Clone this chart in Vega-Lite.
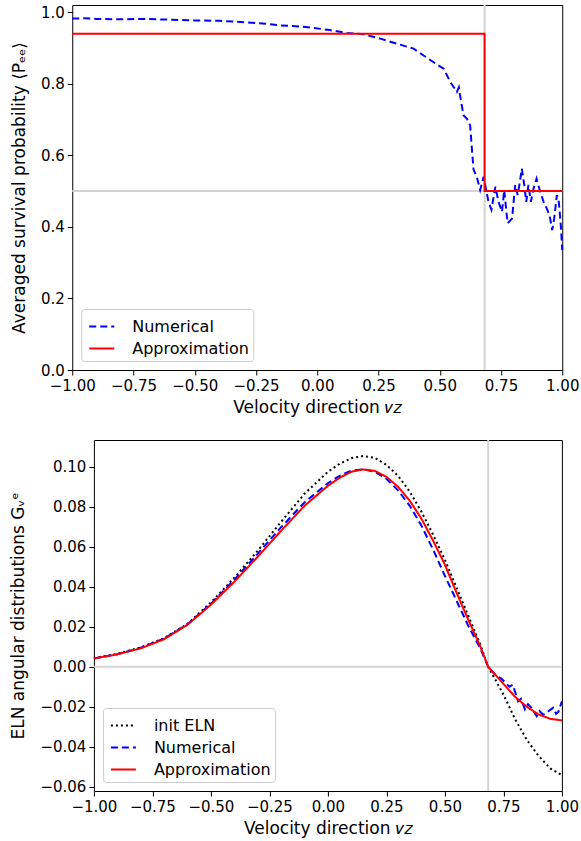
{
  "$schema": "https://vega.github.io/schema/vega-lite/v6.json",
  "padding": {"left": 9, "top": 3, "right": 0, "bottom": 5},
  "background": "white",
  "config": {
    "font": "DejaVu Sans",
    "view": {"stroke": "black", "strokeWidth": 1},
    "axis": {
      "domain": false,
      "grid": false,
      "ticks": true,
      "tickColor": "black",
      "tickSize": 5,
      "tickWidth": 1,
      "labelFont": "DejaVu Sans",
      "labelFontSize": 15,
      "labelColor": "black",
      "labelPadding": 3,
      "titleFont": "DejaVu Sans",
      "titleFontSize": 17,
      "titleFontWeight": "normal",
      "titleColor": "black",
      "labelOverlap": false,
      "labelFlush": false
    },
    "legend": {
      "orient": "bottom-left",
      "offset": 9,
      "title": null,
      "fillColor": "rgba(255,255,255,0.8)",
      "strokeColor": "#cccccc",
      "cornerRadius": 3,
      "padding": 4,
      "labelFont": "DejaVu Sans",
      "labelFontSize": 16,
      "labelColor": "black",
      "symbolType": "stroke",
      "symbolSize": 625,
      "symbolStrokeWidth": 2,
      "symbolOffset": 3,
      "rowPadding": -7,
      "labelOffset": 17
    }
  },
  "resolve": {"scale": {"color": "independent", "strokeDash": "independent", "x": "independent", "y": "independent"}},
  "center": true,
  "spacing": 22,
  "vconcat": [
    {
      "width": 490,
      "height": 365,
      "resolve": {"axis": {"y": "independent"}},
      "layer": [
        {
          "data": {"values": [{"v": 0.683}]},
          "mark": {"type": "rule", "color": "#d3d3d3", "strokeWidth": 2},
          "encoding": {"x": {"field": "v", "type": "quantitative", "scale": {"domain": [-1, 1], "nice": false}}}
        },
        {
          "data": {"values": [{"v": 0.5}]},
          "mark": {"type": "rule", "color": "#d3d3d3", "strokeWidth": 2},
          "encoding": {"y": {"field": "v", "type": "quantitative", "scale": {"domain": [0, 1.02], "nice": false},
                             "axis": {"orient": "right", "title": " ", "labels": false, "ticks": false, "domain": false, "grid": false, "titlePadding": 20, "titleFontSize": 17, "titleOpacity": 0}}}
        },
        {
          "data": {"values": [
            {"s": "Numerical", "i": 0, "x": -1.0, "y": 0.982},
            {"s": "Numerical", "i": 1, "x": -0.95, "y": 0.983},
            {"s": "Numerical", "i": 2, "x": -0.9, "y": 0.981},
            {"s": "Numerical", "i": 3, "x": -0.8, "y": 0.98},
            {"s": "Numerical", "i": 4, "x": -0.7, "y": 0.981},
            {"s": "Numerical", "i": 5, "x": -0.6, "y": 0.979},
            {"s": "Numerical", "i": 6, "x": -0.5, "y": 0.977},
            {"s": "Numerical", "i": 7, "x": -0.4, "y": 0.976},
            {"s": "Numerical", "i": 8, "x": -0.3, "y": 0.972},
            {"s": "Numerical", "i": 9, "x": -0.2, "y": 0.967},
            {"s": "Numerical", "i": 10, "x": -0.15, "y": 0.963},
            {"s": "Numerical", "i": 11, "x": -0.07, "y": 0.96},
            {"s": "Numerical", "i": 12, "x": -0.015, "y": 0.956},
            {"s": "Numerical", "i": 13, "x": 0.05, "y": 0.95},
            {"s": "Numerical", "i": 14, "x": 0.121, "y": 0.942},
            {"s": "Numerical", "i": 15, "x": 0.19, "y": 0.938},
            {"s": "Numerical", "i": 16, "x": 0.257, "y": 0.926},
            {"s": "Numerical", "i": 17, "x": 0.325, "y": 0.912},
            {"s": "Numerical", "i": 18, "x": 0.393, "y": 0.898},
            {"s": "Numerical", "i": 19, "x": 0.434, "y": 0.879},
            {"s": "Numerical", "i": 20, "x": 0.475, "y": 0.86},
            {"s": "Numerical", "i": 21, "x": 0.516, "y": 0.842},
            {"s": "Numerical", "i": 22, "x": 0.543, "y": 0.805},
            {"s": "Numerical", "i": 23, "x": 0.57, "y": 0.777},
            {"s": "Numerical", "i": 24, "x": 0.578, "y": 0.79},
            {"s": "Numerical", "i": 25, "x": 0.586, "y": 0.755},
            {"s": "Numerical", "i": 26, "x": 0.597, "y": 0.712},
            {"s": "Numerical", "i": 27, "x": 0.611, "y": 0.702},
            {"s": "Numerical", "i": 28, "x": 0.624, "y": 0.684},
            {"s": "Numerical", "i": 29, "x": 0.631, "y": 0.62},
            {"s": "Numerical", "i": 30, "x": 0.638, "y": 0.56},
            {"s": "Numerical", "i": 31, "x": 0.651, "y": 0.54},
            {"s": "Numerical", "i": 32, "x": 0.665, "y": 0.503},
            {"s": "Numerical", "i": 33, "x": 0.679, "y": 0.54},
            {"s": "Numerical", "i": 34, "x": 0.699, "y": 0.47},
            {"s": "Numerical", "i": 35, "x": 0.711, "y": 0.448},
            {"s": "Numerical", "i": 36, "x": 0.727, "y": 0.512},
            {"s": "Numerical", "i": 37, "x": 0.74, "y": 0.47},
            {"s": "Numerical", "i": 38, "x": 0.754, "y": 0.442},
            {"s": "Numerical", "i": 39, "x": 0.763, "y": 0.503},
            {"s": "Numerical", "i": 40, "x": 0.777, "y": 0.41},
            {"s": "Numerical", "i": 41, "x": 0.795, "y": 0.423},
            {"s": "Numerical", "i": 42, "x": 0.808, "y": 0.517},
            {"s": "Numerical", "i": 43, "x": 0.818, "y": 0.489},
            {"s": "Numerical", "i": 44, "x": 0.826, "y": 0.521},
            {"s": "Numerical", "i": 45, "x": 0.835, "y": 0.563},
            {"s": "Numerical", "i": 46, "x": 0.845, "y": 0.517},
            {"s": "Numerical", "i": 47, "x": 0.853, "y": 0.47},
            {"s": "Numerical", "i": 48, "x": 0.862, "y": 0.517},
            {"s": "Numerical", "i": 49, "x": 0.872, "y": 0.47},
            {"s": "Numerical", "i": 50, "x": 0.883, "y": 0.507},
            {"s": "Numerical", "i": 51, "x": 0.895, "y": 0.535},
            {"s": "Numerical", "i": 52, "x": 0.91, "y": 0.498},
            {"s": "Numerical", "i": 53, "x": 0.924, "y": 0.47},
            {"s": "Numerical", "i": 54, "x": 0.937, "y": 0.451},
            {"s": "Numerical", "i": 55, "x": 0.948, "y": 0.433},
            {"s": "Numerical", "i": 56, "x": 0.959, "y": 0.391},
            {"s": "Numerical", "i": 57, "x": 0.967, "y": 0.423},
            {"s": "Numerical", "i": 58, "x": 0.978, "y": 0.489},
            {"s": "Numerical", "i": 59, "x": 0.986, "y": 0.47},
            {"s": "Numerical", "i": 60, "x": 0.994, "y": 0.405},
            {"s": "Numerical", "i": 61, "x": 1.0, "y": 0.335},
            {"s": "Approximation", "i": 0, "x": -1.0, "y": 0.94},
            {"s": "Approximation", "i": 1, "x": 0.683, "y": 0.94},
            {"s": "Approximation", "i": 2, "x": 0.683, "y": 0.5},
            {"s": "Approximation", "i": 3, "x": 1.0, "y": 0.5}
          ]},
          "mark": {"type": "line", "strokeWidth": 2},
          "encoding": {
            "x": {"field": "x", "type": "quantitative", "scale": {"domain": [-1, 1], "nice": false},
                  "axis": {"values": [-1, -0.75, -0.5, -0.25, 0, 0.25, 0.5, 0.75, 1], "format": ".2f", "title": "Velocity direction  𝑣𝑧", "titlePadding": 6}},
            "y": {"field": "y", "type": "quantitative", "scale": {"domain": [0, 1.02], "nice": false},
                  "axis": {"values": [0, 0.2, 0.4, 0.6, 0.8, 1.0], "format": ".1f", "title": "Averaged survival probability ⟨Pₑₑ⟩", "titlePadding": 12}},
            "color": {"field": "s", "type": "nominal", "scale": {"domain": ["Numerical", "Approximation"], "range": ["#0000ff", "#ff0000"]}},
            "strokeDash": {"field": "s", "type": "nominal", "scale": {"domain": ["Numerical", "Approximation"], "range": [[7, 4], [1, 0]]}},
            "order": {"field": "i", "type": "quantitative"}
          }
        }
      ]
    },
    {
      "width": 468,
      "height": 351,
      "layer": [
        {
          "data": {"values": [{"v": 0.685}]},
          "mark": {"type": "rule", "color": "#d3d3d3", "strokeWidth": 2},
          "encoding": {"x": {"field": "v", "type": "quantitative", "scale": {"domain": [-1, 1], "nice": false}}}
        },
        {
          "data": {"values": [{"v": 0}]},
          "mark": {"type": "rule", "color": "#d3d3d3", "strokeWidth": 2},
          "encoding": {"y": {"field": "v", "type": "quantitative", "scale": {"domain": [-0.0621, 0.1134], "nice": false}}}
        },
        {
          "data": {"values": [
            {"t": "init ELN", "x": -1.0, "y": 0.0043},
            {"t": "init ELN", "x": -0.9, "y": 0.0065},
            {"t": "init ELN", "x": -0.8, "y": 0.0097},
            {"t": "init ELN", "x": -0.7, "y": 0.0143},
            {"t": "init ELN", "x": -0.6, "y": 0.0215},
            {"t": "init ELN", "x": -0.5, "y": 0.0322},
            {"t": "init ELN", "x": -0.4, "y": 0.0445},
            {"t": "init ELN", "x": -0.3, "y": 0.058},
            {"t": "init ELN", "x": -0.2, "y": 0.0725},
            {"t": "init ELN", "x": -0.1, "y": 0.0865},
            {"t": "init ELN", "x": 0.0, "y": 0.0975},
            {"t": "init ELN", "x": 0.05, "y": 0.1015},
            {"t": "init ELN", "x": 0.1, "y": 0.1043},
            {"t": "init ELN", "x": 0.15, "y": 0.1054},
            {"t": "init ELN", "x": 0.2, "y": 0.1045},
            {"t": "init ELN", "x": 0.25, "y": 0.101},
            {"t": "init ELN", "x": 0.3, "y": 0.0955},
            {"t": "init ELN", "x": 0.35, "y": 0.0875},
            {"t": "init ELN", "x": 0.4, "y": 0.0775},
            {"t": "init ELN", "x": 0.45, "y": 0.066},
            {"t": "init ELN", "x": 0.5, "y": 0.0535},
            {"t": "init ELN", "x": 0.55, "y": 0.0395},
            {"t": "init ELN", "x": 0.6, "y": 0.0255},
            {"t": "init ELN", "x": 0.65, "y": 0.0115},
            {"t": "init ELN", "x": 0.685, "y": 0.0},
            {"t": "init ELN", "x": 0.7, "y": -0.0032},
            {"t": "init ELN", "x": 0.75, "y": -0.0138},
            {"t": "init ELN", "x": 0.8, "y": -0.0262},
            {"t": "init ELN", "x": 0.85, "y": -0.0365},
            {"t": "init ELN", "x": 0.9, "y": -0.0445},
            {"t": "init ELN", "x": 0.95, "y": -0.0508},
            {"t": "init ELN", "x": 1.0, "y": -0.0542},
            {"t": "Numerical", "x": -1.0, "y": 0.0042},
            {"t": "Numerical", "x": -0.9, "y": 0.0063},
            {"t": "Numerical", "x": -0.8, "y": 0.0095},
            {"t": "Numerical", "x": -0.7, "y": 0.0141},
            {"t": "Numerical", "x": -0.6, "y": 0.0213},
            {"t": "Numerical", "x": -0.5, "y": 0.0315},
            {"t": "Numerical", "x": -0.4, "y": 0.0435},
            {"t": "Numerical", "x": -0.3, "y": 0.0565},
            {"t": "Numerical", "x": -0.2, "y": 0.0698},
            {"t": "Numerical", "x": -0.1, "y": 0.0822},
            {"t": "Numerical", "x": 0.0, "y": 0.0918},
            {"t": "Numerical", "x": 0.05, "y": 0.0955},
            {"t": "Numerical", "x": 0.1, "y": 0.098},
            {"t": "Numerical", "x": 0.15, "y": 0.0988},
            {"t": "Numerical", "x": 0.2, "y": 0.0975},
            {"t": "Numerical", "x": 0.25, "y": 0.094},
            {"t": "Numerical", "x": 0.3, "y": 0.0882},
            {"t": "Numerical", "x": 0.35, "y": 0.0805},
            {"t": "Numerical", "x": 0.4, "y": 0.0705},
            {"t": "Numerical", "x": 0.45, "y": 0.0585},
            {"t": "Numerical", "x": 0.5, "y": 0.0455},
            {"t": "Numerical", "x": 0.55, "y": 0.033},
            {"t": "Numerical", "x": 0.6, "y": 0.0205},
            {"t": "Numerical", "x": 0.65, "y": 0.0095},
            {"t": "Numerical", "x": 0.685, "y": 0.0},
            {"t": "Numerical", "x": 0.7, "y": -0.002},
            {"t": "Numerical", "x": 0.72, "y": -0.0045},
            {"t": "Numerical", "x": 0.74, "y": -0.0058},
            {"t": "Numerical", "x": 0.76, "y": -0.008},
            {"t": "Numerical", "x": 0.775, "y": -0.01},
            {"t": "Numerical", "x": 0.79, "y": -0.009},
            {"t": "Numerical", "x": 0.8, "y": -0.0125},
            {"t": "Numerical", "x": 0.813, "y": -0.0172},
            {"t": "Numerical", "x": 0.825, "y": -0.016},
            {"t": "Numerical", "x": 0.842, "y": -0.0213},
            {"t": "Numerical", "x": 0.855, "y": -0.0187},
            {"t": "Numerical", "x": 0.87, "y": -0.0205},
            {"t": "Numerical", "x": 0.892, "y": -0.0247},
            {"t": "Numerical", "x": 0.905, "y": -0.0222},
            {"t": "Numerical", "x": 0.92, "y": -0.024},
            {"t": "Numerical", "x": 0.935, "y": -0.023},
            {"t": "Numerical", "x": 0.95, "y": -0.0215},
            {"t": "Numerical", "x": 0.963, "y": -0.0205},
            {"t": "Numerical", "x": 0.975, "y": -0.0235},
            {"t": "Numerical", "x": 0.985, "y": -0.0225},
            {"t": "Numerical", "x": 0.992, "y": -0.02},
            {"t": "Numerical", "x": 1.0, "y": -0.0172},
            {"t": "Approximation", "x": -1.0, "y": 0.0042},
            {"t": "Approximation", "x": -0.9, "y": 0.0062},
            {"t": "Approximation", "x": -0.8, "y": 0.0092},
            {"t": "Approximation", "x": -0.7, "y": 0.0138},
            {"t": "Approximation", "x": -0.6, "y": 0.021},
            {"t": "Approximation", "x": -0.5, "y": 0.031},
            {"t": "Approximation", "x": -0.4, "y": 0.0425},
            {"t": "Approximation", "x": -0.3, "y": 0.055},
            {"t": "Approximation", "x": -0.2, "y": 0.068},
            {"t": "Approximation", "x": -0.1, "y": 0.0805},
            {"t": "Approximation", "x": 0.0, "y": 0.0905},
            {"t": "Approximation", "x": 0.05, "y": 0.0945},
            {"t": "Approximation", "x": 0.1, "y": 0.0975},
            {"t": "Approximation", "x": 0.15, "y": 0.0987},
            {"t": "Approximation", "x": 0.2, "y": 0.098},
            {"t": "Approximation", "x": 0.25, "y": 0.095},
            {"t": "Approximation", "x": 0.3, "y": 0.09},
            {"t": "Approximation", "x": 0.35, "y": 0.083},
            {"t": "Approximation", "x": 0.4, "y": 0.074},
            {"t": "Approximation", "x": 0.45, "y": 0.063},
            {"t": "Approximation", "x": 0.5, "y": 0.051},
            {"t": "Approximation", "x": 0.55, "y": 0.037},
            {"t": "Approximation", "x": 0.6, "y": 0.0235},
            {"t": "Approximation", "x": 0.65, "y": 0.0105},
            {"t": "Approximation", "x": 0.685, "y": 0.0},
            {"t": "Approximation", "x": 0.75, "y": -0.0085},
            {"t": "Approximation", "x": 0.8, "y": -0.015},
            {"t": "Approximation", "x": 0.85, "y": -0.02},
            {"t": "Approximation", "x": 0.9, "y": -0.0238},
            {"t": "Approximation", "x": 0.95, "y": -0.026},
            {"t": "Approximation", "x": 1.0, "y": -0.0268}
          ]},
          "mark": {"type": "line", "strokeWidth": 2},
          "encoding": {
            "x": {"field": "x", "type": "quantitative", "scale": {"domain": [-1, 1], "nice": false},
                  "axis": {"values": [-1, -0.75, -0.5, -0.25, 0, 0.25, 0.5, 0.75, 1], "format": ".2f", "title": "Velocity direction  𝑣𝑧", "titlePadding": 6}},
            "y": {"field": "y", "type": "quantitative", "scale": {"domain": [-0.0621, 0.1134], "nice": false},
                  "axis": {"values": [-0.06, -0.04, -0.02, 0, 0.02, 0.04, 0.06, 0.08, 0.1], "format": ".2f", "title": "ELN angular distributions  Gᵥᵉ", "titlePadding": 12}},
            "color": {"field": "t", "type": "nominal", "scale": {"domain": ["init ELN", "Numerical", "Approximation"], "range": ["#000000", "#0000ff", "#ff0000"]}},
            "strokeDash": {"field": "t", "type": "nominal", "scale": {"domain": ["init ELN", "Numerical", "Approximation"], "range": [[2, 3], [7, 4], [1, 0]]}}
          }
        }
      ]
    }
  ]
}
